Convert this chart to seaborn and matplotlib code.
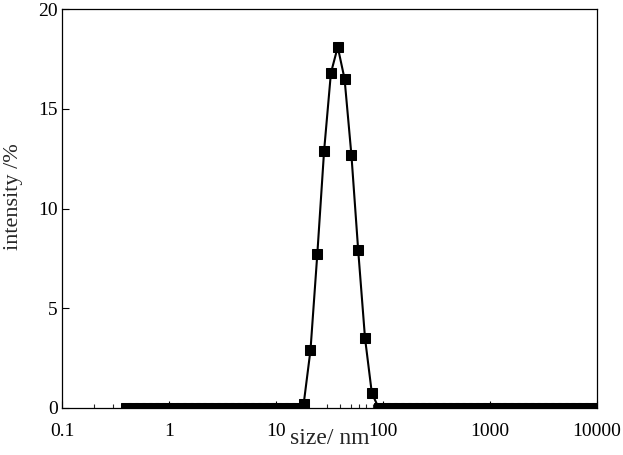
import numpy as np
import matplotlib
matplotlib.use("Agg")
import matplotlib.pyplot as plt
import matplotlib.ticker as mticker
import seaborn as sns
import pandas as pd

# Size classes (nm), log spaced 0.4 .. 10000
size_nm = [0.4000, 0.4632, 0.5365, 0.6213, 0.7195, 0.8332, 0.9649, 1.117, 1.294, 1.499,
           1.736, 2.010, 2.328, 2.696, 3.122, 3.615, 4.187, 4.849, 5.615, 6.503,
           7.531, 8.721, 10.10, 11.70, 13.54, 15.69, 18.17, 21.04, 24.36, 28.21,
           32.67, 37.84, 43.82, 50.75, 58.77, 68.06, 78.82, 91.28, 105.7, 122.4,
           141.8, 164.2, 190.1, 220.2, 255.0, 295.3, 342.0, 396.1, 458.7, 531.2,
           615.1, 712.4, 825.0, 955.4, 1106, 1281, 1484, 1718, 1990, 2305,
           2669, 3091, 3580, 4145, 4801, 5560, 6439, 7456, 8635, 10000]

# intensity (%) for the peak classes, everything else zero
peak_sizes = [18.17, 21.04, 24.36, 28.21, 32.67, 37.84, 43.82, 50.75, 58.77, 68.06, 78.82]
peak_vals = [0.2, 2.9, 7.7, 12.9, 16.8, 18.1, 16.5, 12.7, 7.9, 3.5, 0.75]

intensity = [peak_vals[peak_sizes.index(s)] if s in peak_sizes else 0.0 for s in size_nm]
df = pd.DataFrame({"size": size_nm, "intensity": intensity})

sns.set_theme(style="ticks")
plt.rcParams['font.family'] = ['Liberation Serif', 'DejaVu Serif']

fig = plt.figure(figsize=(6.23, 4.55), dpi=100)
ax = fig.add_axes([0.0995, 0.1033, 0.8585, 0.8767])

sns.lineplot(data=df, x="size", y="intensity", color="black", marker="s",
             markersize=6.5, markeredgecolor="black", linewidth=1.5, ax=ax)

ax.set_xscale("log")
ax.set_xlim(0.1, 10000)
ax.set_ylim(0, 20)
ax.xaxis.set_major_locator(mticker.LogLocator(base=10))
ax.xaxis.set_major_formatter(mticker.FuncFormatter(lambda v, p: "{:g}".format(v)))
ax.xaxis.set_minor_locator(mticker.LogLocator(base=10, subs=np.arange(2, 10)))
ax.xaxis.set_minor_formatter(mticker.NullFormatter())
ax.set_yticks([0, 5, 10, 15, 20])

ax.tick_params(axis="both", which="major", direction="in", length=5, width=0.8,
               labelsize=14, colors="black")
ax.tick_params(axis="x", which="major", pad=11)
ax.tick_params(axis="y", which="major", pad=3)
ax.tick_params(axis="x", which="minor", direction="in", length=3, width=0.8)
for s in ax.spines.values():
    s.set_visible(True)
    s.set_linewidth(0.9)
    s.set_color("black")

ax.set_xlabel("size/ nm", fontsize=17)
ax.xaxis.set_label_coords(0.5, -0.05)
ax.set_ylabel("intensity /%", fontsize=16)
ax.yaxis.set_label_coords(-0.072, 0.53)

fig.savefig("out.png", dpi=100)
